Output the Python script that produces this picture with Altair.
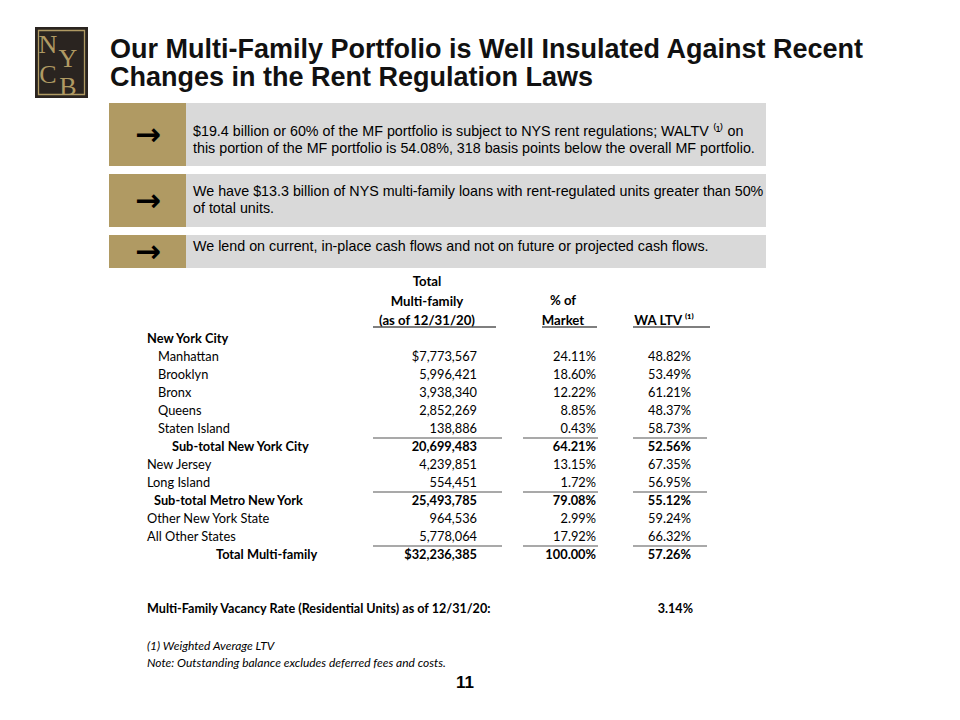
import altair as alt
import pandas as pd

# ---------------- data ----------------
title_lines = ["Our Multi-Family Portfolio is Well Insulated Against Recent",
               "Changes in the Rent Regulation Laws"]
bullets = [
    ["$19.4 billion or 60% of the MF portfolio is subject to NYS rent regulations; WALTV \u207d\u00b9\u207e on",
     "this portion of the MF portfolio is 54.08%, 318 basis points below the overall MF portfolio."],
    ["We have $13.3 billion of NYS multi-family loans with rent-regulated units greater than 50%",
     "of total units."],
    ["We lend on current, in-place cash flows and not on future or projected cash flows."],
]
header_col1 = ["Total", "Multi-family", "(as of 12/31/20)"]
header_col2 = ["% of", "Market"]
header_col3 = ["WA LTV \u207d\u00b9\u207e"]

row_labels = ["New York City", "Manhattan", "Brooklyn", "Bronx", "Queens", "Staten Island",
              "Sub-total New York City", "New Jersey", "Long Island", "Sub-total Metro New York",
              "Other New York State", "All Other States", "Total Multi-family"]
totals = ["", "$7,773,567", "5,996,421", "3,938,340", "2,852,269", "138,886", "20,699,483",
          "4,239,851", "554,451", "25,493,785", "964,536", "5,778,064", "$32,236,385"]
pct_market = ["", "24.11%", "18.60%", "12.22%", "8.85%", "0.43%", "64.21%", "13.15%",
              "1.72%", "79.08%", "2.99%", "17.92%", "100.00%"]
wa_ltv = ["", "48.82%", "53.49%", "61.21%", "48.37%", "58.73%", "52.56%", "67.35%",
          "56.95%", "55.12%", "59.24%", "66.32%", "57.26%"]
bold_rows = [0, 6, 9, 12]
subtotal_rows = [6, 9, 12]
vacancy_label = "Multi-Family Vacancy Rate (Residential Units) as of 12/31/20:"
vacancy_value = "3.14%"
footnotes = ["(1) Weighted Average LTV", "Note: Outstanding balance excludes deferred fees and costs."]
page_number = "11"
logo_letters = ["N", "Y", "C", "B"]

# ---------------- layout ----------------
GOLD = "#b09a63"
GRAY = "#d9d9d9"
DARK = "#2a2420"
TFONT = "Lato"
TSIZE = 12.8
row_indent = [147, 158, 158, 158, 158, 158, 172, 147, 147, 154, 147, 147, 216]
ROW0, ROWH = 339, 18
COL1_R, COL2_R, COL3_R = 477, 596, 691

X = lambda f: alt.X(f, type="quantitative", scale=alt.Scale(domain=[8, 952], nice=False, zero=False), axis=None)
Y = lambda f: alt.Y(f, type="quantitative", scale=alt.Scale(domain=[8, 712], nice=False, zero=False, reverse=True), axis=None)


def text_layer(df, size, font="Liberation Sans", weight="normal", align="left", style="normal", color="black"):
    return alt.Chart(df).mark_text(
        font=font, fontSize=size, fontWeight=weight, align=align, baseline="middle",
        fontStyle=style, color=color
    ).encode(x=X("x"), y=Y("y"), text="t:N")


def rect_layer(df):
    return alt.Chart(df).mark_rect().encode(
        x=X("x"), x2="x2", y=Y("y"), y2="y2",
        color=alt.Color("fill:N", scale=None))


def rule_layer(df, color, width):
    return alt.Chart(df).mark_rule(color=color, strokeWidth=width).encode(
        x=X("x"), x2="x2", y=Y("y"))


layers = []

# logo
layers.append(rect_layer(pd.DataFrame([{"x": 35, "x2": 88, "y": 27, "y2": 98, "fill": DARK}])))
layers.append(alt.Chart(pd.DataFrame([{"x": 38.5, "x2": 84.5, "y": 30.5, "y2": 94.5}])).mark_rect(
    fill=None, stroke=GOLD, strokeWidth=1.3).encode(x=X("x"), x2="x2", y=Y("y"), y2="y2"))
logo_pos = [(48, 45), (68, 59), (48, 75), (68, 87)]
layers.append(text_layer(pd.DataFrame([{"x": p[0], "y": p[1], "t": t} for p, t in zip(logo_pos, logo_letters)]),
                         26, font="Liberation Serif", align="center", color=GOLD))

# title
layers.append(text_layer(pd.DataFrame([{"x": 110, "y": 50 + 28 * i, "t": t} for i, t in enumerate(title_lines)]),
                         27, weight="bold", color="#111111"))

# bullet boxes
boxes = [(103, 166), (174, 227), (235, 268)]
rects = []
for (y0, y1) in boxes:
    rects.append({"x": 109, "x2": 186, "y": y0, "y2": y1, "fill": GOLD})
    rects.append({"x": 186, "x2": 766, "y": y0, "y2": y1, "fill": GRAY})
layers.append(rect_layer(pd.DataFrame(rects)))
arrows = [{"x": 148, "y": (y0 + y1) / 2 + 1, "t": "\u2192"} for (y0, y1) in boxes]
layers.append(text_layer(pd.DataFrame(arrows), 31, font="DejaVu Sans", weight="bold", align="center"))
btxt = []
line_y = [[132, 149], [192, 209], [247]]
for lines, ys in zip(bullets, line_y):
    for t, y in zip(lines, ys):
        btxt.append({"x": 193, "y": y, "t": t})
layers.append(text_layer(pd.DataFrame(btxt), 14.3))

# table header
hdr = [{"x": 427, "y": 282 + 19.5 * i, "t": t} for i, t in enumerate(header_col1)]
hdr += [{"x": 563, "y": 301 + 19.5 * i, "t": t} for i, t in enumerate(header_col2)]
hdr += [{"x": 664, "y": 321, "t": t} for t in header_col3]
layers.append(text_layer(pd.DataFrame(hdr), 13.2, font=TFONT, weight="bold", align="center"))
layers.append(rule_layer(pd.DataFrame([{"x": 373, "x2": 496, "y": 327}, {"x": 542, "x2": 597, "y": 327},
                                       {"x": 633, "x2": 710, "y": 327}]), "#555555", 1.5))

# table body
reg_lab, bold_lab, reg_val, bold_val = [], [], [], []
for i, lab in enumerate(row_labels):
    y = ROW0 + ROWH * i
    b = i in bold_rows
    (bold_lab if b else reg_lab).append({"x": row_indent[i], "y": y, "t": lab})
    for xr, v in ((COL1_R, totals[i]), (COL2_R, pct_market[i]), (COL3_R, wa_ltv[i])):
        if v:
            (bold_val if b else reg_val).append({"x": xr, "y": y, "t": v})
layers.append(text_layer(pd.DataFrame(reg_lab), TSIZE, font=TFONT))
layers.append(text_layer(pd.DataFrame(bold_lab), TSIZE, font=TFONT, weight="bold"))
layers.append(text_layer(pd.DataFrame(reg_val), TSIZE, font=TFONT, align="right"))
layers.append(text_layer(pd.DataFrame(bold_val), TSIZE, font=TFONT, weight="bold", align="right"))

seps = []
for r in subtotal_rows:
    y = ROW0 + ROWH * r - 9
    seps += [{"x": 373, "x2": 502, "y": y}, {"x": 523, "x2": 598, "y": y}, {"x": 633, "x2": 707, "y": y}]
layers.append(rule_layer(pd.DataFrame(seps), "#8c8c8c", 1.5))

# vacancy + footnotes
layers.append(text_layer(pd.DataFrame([{"x": 147, "y": 609, "t": vacancy_label}]), 12.6, font=TFONT, weight="bold"))
layers.append(text_layer(pd.DataFrame([{"x": 693, "y": 609, "t": vacancy_value}]), 12.6, font=TFONT, weight="bold", align="right"))
layers.append(text_layer(pd.DataFrame([{"x": 147, "y": 646 + 17 * i, "t": t} for i, t in enumerate(footnotes)]),
                         12, font=TFONT, style="italic"))
layers.append(text_layer(pd.DataFrame([{"x": 465, "y": 683, "t": page_number}]), 17, weight="bold", align="center"))

chart = alt.layer(*layers).properties(
    width=944, height=704, padding=0, autosize=alt.AutoSizeParams(type="none"),
    background="white"
).configure_view(stroke=None)

chart.save("out.html", embed_options={"renderer": "svg", "actions": False})
